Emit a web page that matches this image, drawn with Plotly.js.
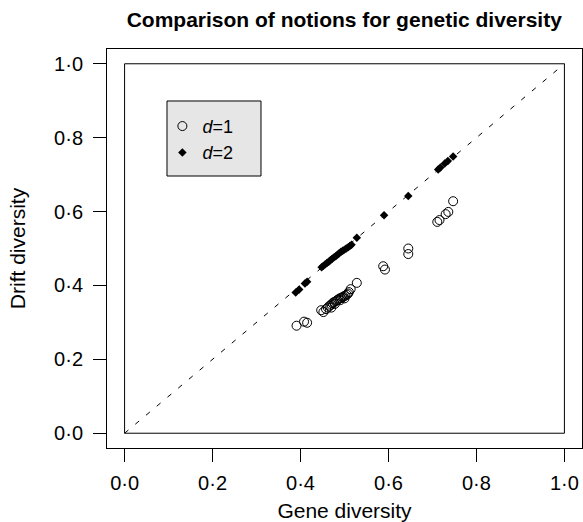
<!DOCTYPE html>
<html>
<head>
<meta charset="utf-8">
<script src="https://cdn.plot.ly/plotly-3.0.1.min.js"></script>
<style>html,body{margin:0;padding:0;background:#fff;}</style>
</head>
<body>
<div id="chart" style="width:583px;height:522px;"></div>
<script>
// d = 1 (open circles)
const geneD1 = [0.391,0.408,0.415,
  0.447,0.452,0.458,0.462,0.466,0.470,0.473,0.476,0.480,0.483,0.486,0.489,0.492,0.495,0.498,0.501,0.505,0.470,0.478,0.490,0.500,0.510,0.514,0.508,
  0.528,0.588,0.592,0.645,0.645,0.711,0.716,0.730,0.736,0.747];
const driftD1 = [0.291,0.302,0.299,
  0.333,0.328,0.336,0.340,0.345,0.348,0.352,0.355,0.357,0.360,0.362,0.365,0.366,0.368,0.370,0.372,0.375,0.340,0.350,0.360,0.365,0.382,0.390,0.378,
  0.407,0.452,0.443,0.500,0.485,0.572,0.577,0.593,0.599,0.628];
// d = 2 (filled diamonds)
const geneD2 = [0.389,0.397,0.410,0.415,
  0.448,0.452,0.456,0.460,0.464,0.468,0.472,0.476,0.480,0.484,0.488,0.492,0.496,0.500,0.504,0.508,0.512,0.516,
  0.528,0.590,0.645,0.713,0.718,0.728,0.735,0.747];
const driftD2 = [0.381,0.389,0.405,0.410,
  0.449,0.453,0.457,0.461,0.464,0.468,0.472,0.476,0.479,0.483,0.487,0.491,0.494,0.497,0.500,0.503,0.507,0.510,
  0.529,0.590,0.642,0.714,0.719,0.730,0.737,0.749];
const tickVals = [0, 0.2, 0.4, 0.6, 0.8, 1.0];
const tickText = ['0·0','0·2','0·4','0·6','0·8','1·0'];
const diagonal = [0, 1];

const FONT = 'Liberation Sans, Arial, Helvetica, sans-serif';

const traces = [
  {x: diagonal, y: diagonal, mode: 'lines', showlegend: false, hoverinfo: 'skip',
   line: {color: 'black', width: 1, dash: '5px,9px'}},
  {x: geneD1, y: driftD1, mode: 'markers', name: '<i>d</i>=1',
   marker: {symbol: 'circle-open', size: 9, color: 'black', line: {width: 1, color: 'black'}}},
  {x: geneD2, y: driftD2, mode: 'markers', name: '<i>d</i>=2',
   marker: {symbol: 'diamond', size: 6.5, color: 'black', line: {width: 0}}}
];

const axisCommon = {
  range: [-0.04, 1.04], tickvals: tickVals, ticktext: tickText,
  showgrid: false, zeroline: false, showline: true, mirror: true,
  linecolor: 'black', linewidth: 1, ticks: 'outside', ticklen: 13, tickwidth: 1, tickcolor: 'black',
  tickfont: {family: FONT, size: 20, color: 'black'}, automargin: false
};

const layout = {
  width: 583, height: 522,
  margin: {l: 107, r: 1, t: 49, b: 74},
  paper_bgcolor: 'white', plot_bgcolor: 'white',
  font: {family: FONT, color: 'black'},
  title: {text: '<b>Comparison of notions for genetic diversity</b>', font: {family: FONT, size: 21, color: 'black'},
          x: 0.5905, xanchor: 'center', y: 0.962, yanchor: 'middle'},
  xaxis: Object.assign({}, axisCommon, {title: {text: 'Gene diversity', font: {family: FONT, size: 21}, standoff: 10}, ticklabelstandoff: 4}),
  yaxis: Object.assign({}, axisCommon, {title: {text: 'Drift diversity', font: {family: FONT, size: 21}, standoff: 22}, ticklabelstandoff: 6}),
  shapes: [
    {type: 'rect', xref: 'x', yref: 'y', x0: 0, y0: 0, x1: 1, y1: 1, line: {color: 'black', width: 1}, fillcolor: 'rgba(0,0,0,0)'},
    {type: 'rect', xref: 'paper', yref: 'paper', x0: 0.1263, x1: 0.3242, y0: 0.6817, y1: 0.8697,
     line: {color: 'black', width: 1}, fillcolor: '#e6e6e6', layer: 'below'}
  ],
  legend: {x: 0.1166, y: 0.8525, xanchor: 'left', yanchor: 'top', bgcolor: 'rgba(0,0,0,0)', borderwidth: 0,
           font: {family: FONT, size: 18, color: 'black'}},
  showlegend: true
};

Plotly.newPlot('chart', traces, layout, {displayModeBar: false, staticPlot: true});
</script>
</body>
</html>
